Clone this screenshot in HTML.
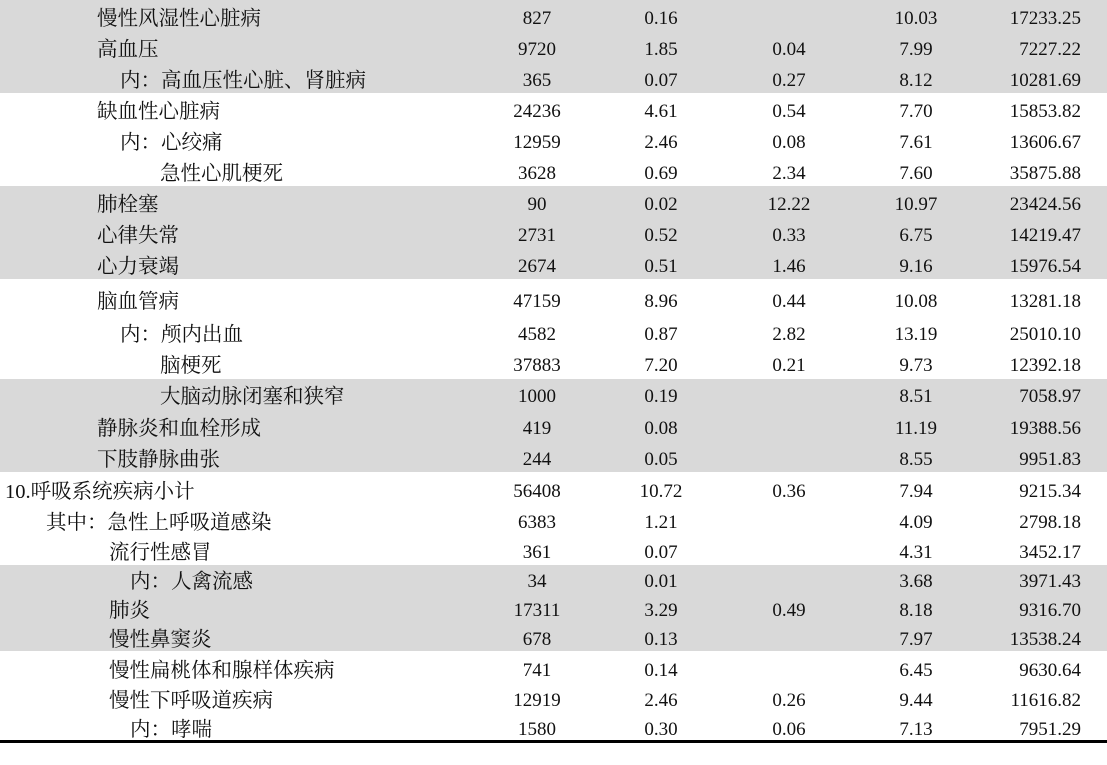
<!DOCTYPE html>
<html><head><meta charset="utf-8"><style>
body{margin:0;width:1107px;height:765px;background:#fff;position:relative;overflow:hidden;font-family:"Liberation Serif","Noto Serif CJK SC","Noto Sans CJK SC",serif;font-size:19px;color:#111}
.g{position:absolute;left:0;width:1107px;background:#d9d9d9}
.r{position:absolute;left:0;width:1107px;height:24px;line-height:24px;white-space:nowrap;margin-top:2px}
.r span{position:absolute;top:0}
.r span:first-child{font-size:20.5px}
.c1{left:487px;width:100px;text-align:center}
.c2{left:611px;width:100px;text-align:center}
.c3{left:739px;width:100px;text-align:center}
.c4{left:866px;width:100px;text-align:center}
.c5{left:960px;width:121px;text-align:right}
</style></head><body>
<div class="g" style="top:0;height:93px"></div>
<div class="g" style="top:186px;height:93px"></div>
<div class="g" style="top:379px;height:93px"></div>
<div class="g" style="top:565px;height:86px"></div>
<div style="position:absolute;left:0;top:740px;width:1107px;height:3px;background:#000"></div>
<div class="r" style="top:5px"><span style="left:97px">慢性风湿性心脏病</span><span class="c1">827</span><span class="c2">0.16</span><span class="c3"></span><span class="c4">10.03</span><span class="c5">17233.25</span></div>
<div class="r" style="top:36px"><span style="left:97px">高血压</span><span class="c1">9720</span><span class="c2">1.85</span><span class="c3">0.04</span><span class="c4">7.99</span><span class="c5">7227.22</span></div>
<div class="r" style="top:67px"><span style="left:120px">内：高血压性心脏、肾脏病</span><span class="c1">365</span><span class="c2">0.07</span><span class="c3">0.27</span><span class="c4">8.12</span><span class="c5">10281.69</span></div>
<div class="r" style="top:98px"><span style="left:97px">缺血性心脏病</span><span class="c1">24236</span><span class="c2">4.61</span><span class="c3">0.54</span><span class="c4">7.70</span><span class="c5">15853.82</span></div>
<div class="r" style="top:129px"><span style="left:120px">内：心绞痛</span><span class="c1">12959</span><span class="c2">2.46</span><span class="c3">0.08</span><span class="c4">7.61</span><span class="c5">13606.67</span></div>
<div class="r" style="top:160px"><span style="left:160px">急性心肌梗死</span><span class="c1">3628</span><span class="c2">0.69</span><span class="c3">2.34</span><span class="c4">7.60</span><span class="c5">35875.88</span></div>
<div class="r" style="top:191px"><span style="left:97px">肺栓塞</span><span class="c1">90</span><span class="c2">0.02</span><span class="c3">12.22</span><span class="c4">10.97</span><span class="c5">23424.56</span></div>
<div class="r" style="top:222px"><span style="left:97px">心律失常</span><span class="c1">2731</span><span class="c2">0.52</span><span class="c3">0.33</span><span class="c4">6.75</span><span class="c5">14219.47</span></div>
<div class="r" style="top:253px"><span style="left:97px">心力衰竭</span><span class="c1">2674</span><span class="c2">0.51</span><span class="c3">1.46</span><span class="c4">9.16</span><span class="c5">15976.54</span></div>
<div class="r" style="top:288px"><span style="left:97px">脑血管病</span><span class="c1">47159</span><span class="c2">8.96</span><span class="c3">0.44</span><span class="c4">10.08</span><span class="c5">13281.18</span></div>
<div class="r" style="top:321px"><span style="left:120px">内：颅内出血</span><span class="c1">4582</span><span class="c2">0.87</span><span class="c3">2.82</span><span class="c4">13.19</span><span class="c5">25010.10</span></div>
<div class="r" style="top:352px"><span style="left:160px">脑梗死</span><span class="c1">37883</span><span class="c2">7.20</span><span class="c3">0.21</span><span class="c4">9.73</span><span class="c5">12392.18</span></div>
<div class="r" style="top:383px"><span style="left:160px">大脑动脉闭塞和狭窄</span><span class="c1">1000</span><span class="c2">0.19</span><span class="c3"></span><span class="c4">8.51</span><span class="c5">7058.97</span></div>
<div class="r" style="top:415px"><span style="left:97px">静脉炎和血栓形成</span><span class="c1">419</span><span class="c2">0.08</span><span class="c3"></span><span class="c4">11.19</span><span class="c5">19388.56</span></div>
<div class="r" style="top:446px"><span style="left:97px">下肢静脉曲张</span><span class="c1">244</span><span class="c2">0.05</span><span class="c3"></span><span class="c4">8.55</span><span class="c5">9951.83</span></div>
<div class="r" style="top:478px"><span style="left:5px">10.呼吸系统疾病小计</span><span class="c1">56408</span><span class="c2">10.72</span><span class="c3">0.36</span><span class="c4">7.94</span><span class="c5">9215.34</span></div>
<div class="r" style="top:509px"><span style="left:46px">其中：急性上呼吸道感染</span><span class="c1">6383</span><span class="c2">1.21</span><span class="c3"></span><span class="c4">4.09</span><span class="c5">2798.18</span></div>
<div class="r" style="top:539px"><span style="left:109px">流行性感冒</span><span class="c1">361</span><span class="c2">0.07</span><span class="c3"></span><span class="c4">4.31</span><span class="c5">3452.17</span></div>
<div class="r" style="top:568px"><span style="left:130px">内：人禽流感</span><span class="c1">34</span><span class="c2">0.01</span><span class="c3"></span><span class="c4">3.68</span><span class="c5">3971.43</span></div>
<div class="r" style="top:597px"><span style="left:109px">肺炎</span><span class="c1">17311</span><span class="c2">3.29</span><span class="c3">0.49</span><span class="c4">8.18</span><span class="c5">9316.70</span></div>
<div class="r" style="top:626px"><span style="left:109px">慢性鼻窦炎</span><span class="c1">678</span><span class="c2">0.13</span><span class="c3"></span><span class="c4">7.97</span><span class="c5">13538.24</span></div>
<div class="r" style="top:657px"><span style="left:109px">慢性扁桃体和腺样体疾病</span><span class="c1">741</span><span class="c2">0.14</span><span class="c3"></span><span class="c4">6.45</span><span class="c5">9630.64</span></div>
<div class="r" style="top:687px"><span style="left:109px">慢性下呼吸道疾病</span><span class="c1">12919</span><span class="c2">2.46</span><span class="c3">0.26</span><span class="c4">9.44</span><span class="c5">11616.82</span></div>
<div class="r" style="top:716px"><span style="left:130px">内：哮喘</span><span class="c1">1580</span><span class="c2">0.30</span><span class="c3">0.06</span><span class="c4">7.13</span><span class="c5">7951.29</span></div>
</body></html>
